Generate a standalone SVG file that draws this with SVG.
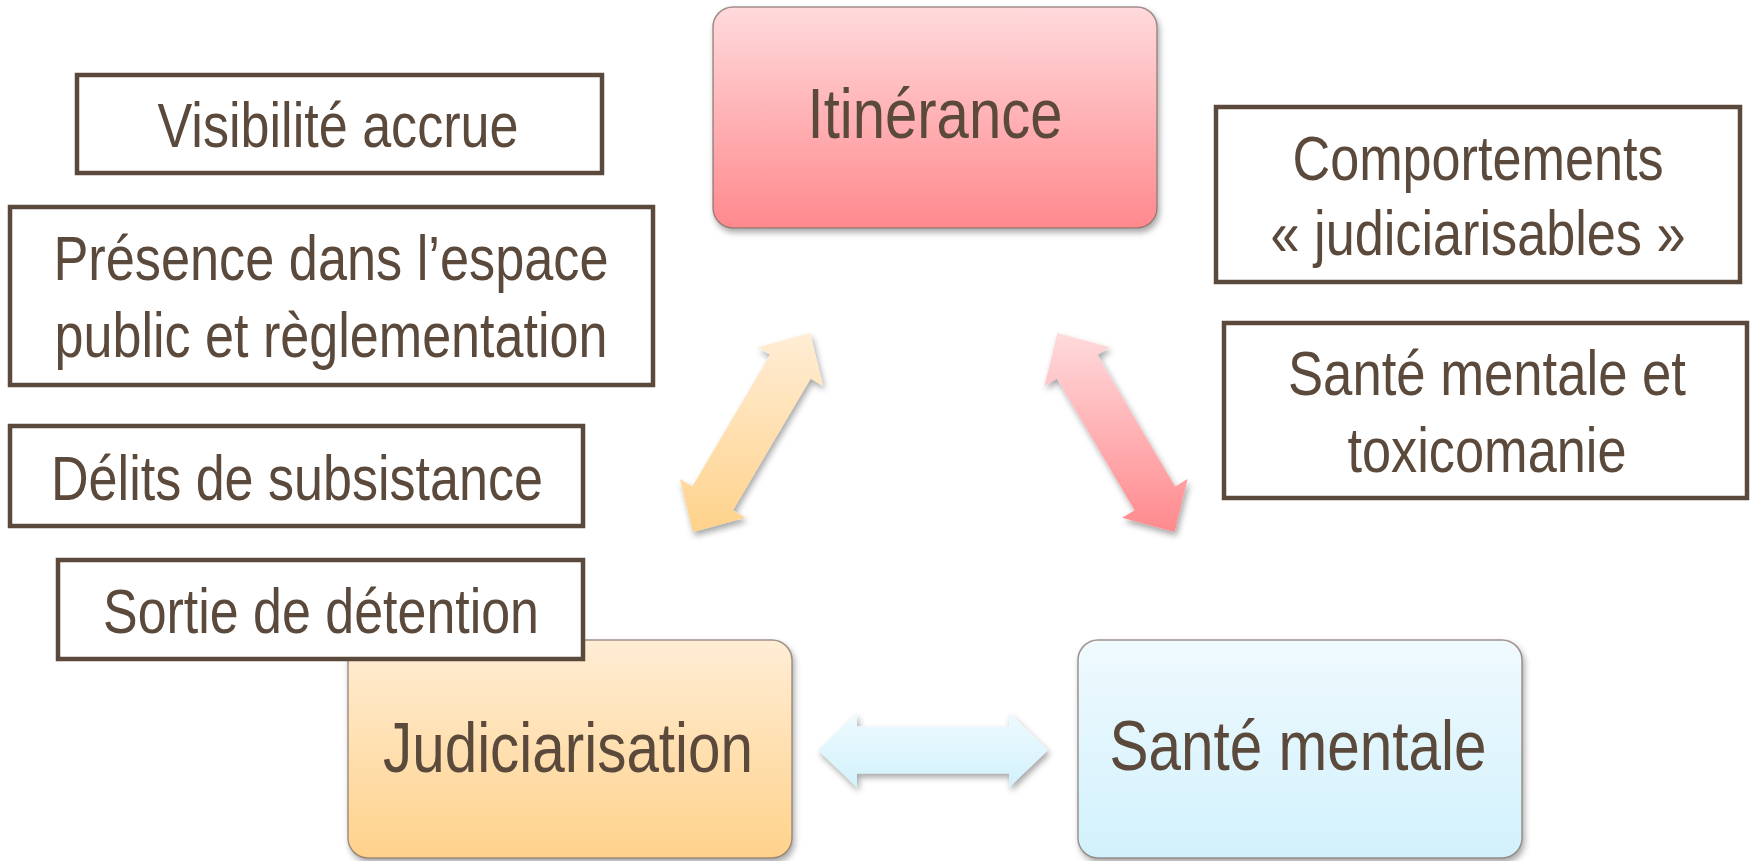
<svg xmlns="http://www.w3.org/2000/svg" width="1750" height="861" viewBox="0 0 1750 861">
  <defs>
    <linearGradient id="gPink" x1="0" y1="0" x2="0" y2="1">
      <stop offset="0" stop-color="#FFDADC"/>
      <stop offset="1" stop-color="#FF898D"/>
    </linearGradient>
    <linearGradient id="gOrange" x1="0" y1="0" x2="0" y2="1">
      <stop offset="0" stop-color="#FFEDD5"/>
      <stop offset="1" stop-color="#FFD28B"/>
    </linearGradient>
    <linearGradient id="gBlue" x1="0" y1="0" x2="0" y2="1">
      <stop offset="0" stop-color="#EFFAFE"/>
      <stop offset="1" stop-color="#D2F1FC"/>
    </linearGradient>
    <filter id="shadow" x="-20%" y="-20%" width="140%" height="140%">
      <feDropShadow dx="2" dy="4" stdDeviation="3" flood-color="#000" flood-opacity="0.35"/>
    </filter>
    <style>
      .big { stroke: #7A6A62; stroke-opacity: 0.7; stroke-width: 1.5; filter: url(#shadow); }
      .box { fill: #FFFFFF; stroke: #5B4A3C; stroke-width: 4.5; }
      .t { font-family: "Liberation Sans Narrow", "Arial Narrow", "Liberation Sans", Arial, sans-serif; fill: #5B4A3C; text-anchor: middle; }
      .tb { font-size: 71px; }
      .ts { font-size: 63px; }
      .arrow { filter: url(#shadow); }
    </style>
  </defs>
  <rect width="1750" height="861" fill="#FFFFFF"/>

  <g id="connectors">
    <polygon class="arrow" fill="url(#gOrange)" points="810.1,333 823.1,385.9 810.6,378.5 732.9,510.3 745.4,517.7 692.9,532 679.9,479.1 692.4,486.5 770.1,354.7 757.6,347.3"/>
    <polygon class="arrow" fill="url(#gPink)" points="1057.4,333 1109.9,347.3 1097.4,354.7 1175.1,486.5 1187.6,479.1 1174.6,532 1122.1,517.7 1134.6,510.3 1056.9,378.5 1044.4,385.9"/>
    <polygon class="arrow" fill="url(#gBlue)" points="818,750 857,712.5 857,726.5 1009,726.5 1009,712.5 1048,750 1009,787.5 1009,773.5 857,773.5 857,787.5"/>
  </g>

  <g id="itinerance">
    <rect class="big" x="713" y="7" width="444" height="221" rx="20" fill="url(#gPink)"/>
    <text class="t tb" x="935" y="138" textLength="255" lengthAdjust="spacingAndGlyphs">Itinérance</text>
  </g>

  <g id="judiciarisation">
    <rect class="big" x="348" y="640" width="444" height="218" rx="20" fill="url(#gOrange)"/>
    <text class="t tb" x="568" y="772" textLength="370" lengthAdjust="spacingAndGlyphs">Judiciarisation</text>
  </g>

  <g id="sante-mentale">
    <rect class="big" x="1078" y="640" width="444" height="218" rx="20" fill="url(#gBlue)"/>
    <text class="t tb" x="1298" y="770" textLength="377" lengthAdjust="spacingAndGlyphs">Santé mentale</text>
  </g>

  <g id="visibilite">
    <rect class="box" x="77" y="75" width="525" height="98"/>
    <text class="t ts" x="338" y="147" textLength="361" lengthAdjust="spacingAndGlyphs">Visibilité accrue</text>
  </g>

  <g id="presence">
    <rect class="box" x="10" y="207" width="643" height="178"/>
    <text class="t ts" x="331" y="280" textLength="555" lengthAdjust="spacingAndGlyphs">Présence dans l’espace</text>
    <text class="t ts" x="331" y="357" textLength="553" lengthAdjust="spacingAndGlyphs">public et règlementation</text>
  </g>

  <g id="delits">
    <rect class="box" x="10" y="426" width="573" height="100"/>
    <text class="t ts" x="297" y="500" textLength="492" lengthAdjust="spacingAndGlyphs">Délits de subsistance</text>
  </g>

  <g id="sortie">
    <rect class="box" x="58" y="560" width="525" height="99"/>
    <text class="t ts" x="321" y="633" textLength="436" lengthAdjust="spacingAndGlyphs">Sortie de détention</text>
  </g>

  <g id="comportements">
    <rect class="box" x="1216" y="107" width="524" height="175"/>
    <text class="t ts" x="1478" y="180" textLength="371" lengthAdjust="spacingAndGlyphs">Comportements</text>
    <text class="t ts" x="1478" y="255" textLength="415" lengthAdjust="spacingAndGlyphs">« judiciarisables »</text>
  </g>

  <g id="sante-toxicomanie">
    <rect class="box" x="1224" y="323" width="523" height="175"/>
    <text class="t ts" x="1487" y="395" textLength="398" lengthAdjust="spacingAndGlyphs">Santé mentale et</text>
    <text class="t ts" x="1487" y="472" textLength="279" lengthAdjust="spacingAndGlyphs">toxicomanie</text>
  </g>
</svg>
